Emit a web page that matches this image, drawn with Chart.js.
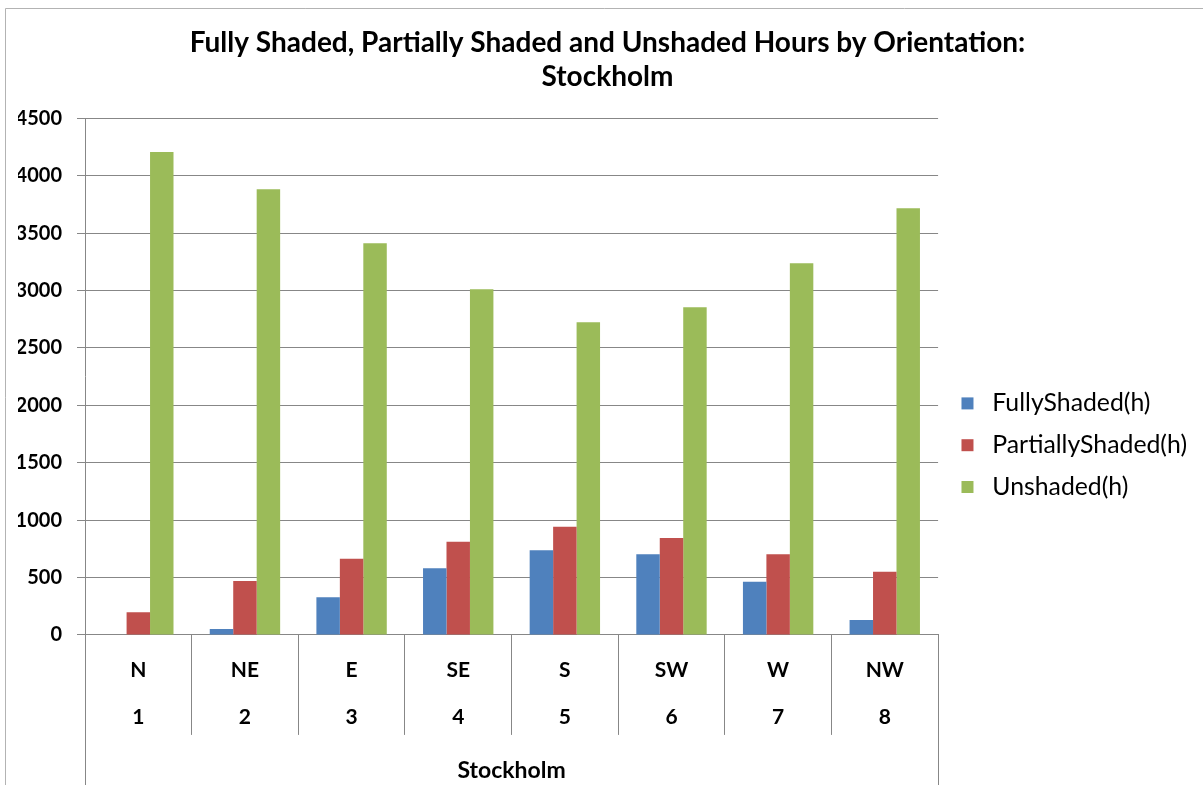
<!DOCTYPE html>
<html>
<head>
<meta charset="utf-8">
<script src="https://cdn.jsdelivr.net/npm/chart.js@4.4.1/dist/chart.umd.min.js"></script>
<style>
  html, body { margin: 0; padding: 0; background: #fff; }
  #wrap { width: 1203px; height: 785px; position: relative; }
</style>
</head>
<body>
<div id="wrap"><canvas id="c" width="1203" height="785"></canvas></div>
<script>
const orientations = ['N', 'NE', 'E', 'SE', 'S', 'SW', 'W', 'NW'];
const orientationIndex = ['1', '2', '3', '4', '5', '6', '7', '8'];
const groupLabel = 'Stockholm';
const fullyShaded = [0, 52, 328, 580, 737, 702, 464, 130];
const partiallyShaded = [198, 470, 664, 812, 943, 844, 702, 551];
const unshaded = [4206, 3882, 3412, 3011, 2724, 2855, 3238, 3717];
const yTicks = [0, 500, 1000, 1500, 2000, 2500, 3000, 3500, 4000, 4500];

const FONT = 'Lato, "Open Sans", sans-serif';
const GRID = '#878787';

const frame = {
  id: 'frame',
  beforeDraw(chart) {
    const ctx = chart.ctx;
    ctx.save();
    ctx.fillStyle = '#fff';
    ctx.fillRect(0, 0, chart.width, chart.height);
    ctx.strokeStyle = '#b3b3b3';
    ctx.lineWidth = 1;
    ctx.beginPath();
    ctx.moveTo(5.5, chart.height + 5);
    ctx.lineTo(5.5, 8.5);
    ctx.lineTo(chart.width + 5, 8.5);
    ctx.stroke();
    ctx.restore();
  },
  afterDraw(chart) {
    const ctx = chart.ctx;
    const a = chart.chartArea;
    const x = chart.scales.x;
    ctx.save();
    ctx.strokeStyle = GRID;
    ctx.lineWidth = 1;
    ctx.beginPath();
    [x.left, x.right].forEach(px => {
      const p = Math.round(px) + 0.5;
      ctx.moveTo(p, a.bottom);
      ctx.lineTo(p, chart.height);
    });
    ctx.stroke();
    ctx.restore();
  }
};

new Chart(document.getElementById('c'), {
  type: 'bar',
  data: {
    labels: orientations.map((o, i) => [o, orientationIndex[i]]),
    datasets: [
      { label: 'FullyShaded(h)', data: fullyShaded, backgroundColor: '#4F81BD', pointStyle: 'rect' },
      { label: 'PartiallyShaded(h)', data: partiallyShaded, backgroundColor: '#C0504D', pointStyle: 'rect' },
      { label: 'Unshaded(h)', data: unshaded, backgroundColor: '#9BBB59', pointStyle: 'rect' }
    ]
  },
  options: {
    responsive: false,
    animation: false,
    devicePixelRatio: 1,
    layout: { padding: { left: 18, right: 6, top: 10, bottom: 3 } },
    datasets: { bar: { categoryPercentage: 0.66, barPercentage: 1.0 } },
    plugins: {
      title: {
        display: true,
        text: ['Fully Shaded, Partially Shaded and Unshaded Hours by Orientation:', 'Stockholm'],
        color: '#000',
        font: { family: FONT, size: 28, weight: 'bold', lineHeight: 1.22 },
        padding: { top: 16, bottom: 24 }
      },
      legend: {
        position: 'right',
        title: { display: true, text: ' ', font: { size: 12, lineHeight: 1.2 }, padding: { top: 84, bottom: 0 } },
        labels: {
          color: '#000',
          font: { family: FONT, size: 24.8 },
          usePointStyle: true,
          boxWidth: 24.8,
          boxHeight: 12,
          padding: 17
        }
      },
      tooltip: { enabled: false }
    },
    scales: {
      x: {
        grid: { display: true, drawOnChartArea: false, offset: true, tickLength: 100, color: GRID },
        border: { display: true, color: GRID },
        ticks: {
          color: '#000',
          font: { family: FONT, size: 21, weight: 'bold', lineHeight: 2.24 },
          padding: -88.5,
          maxRotation: 0,
          autoSkip: false
        },
        title: {
          display: true,
          text: groupLabel,
          color: '#000',
          font: { family: FONT, size: 23, weight: 'bold', lineHeight: 1 },
          padding: { top: 107, bottom: 0 }
        }
      },
      y: {
        min: 0,
        max: 4500,
        afterBuildTicks(scale) { scale.ticks = yTicks.map(v => ({ value: v })); },
        afterFit(scale) { scale.width = 67; },
        grid: { color: GRID, tickLength: 8 },
        border: { display: true, color: GRID },
        ticks: {
          color: '#000',
          font: { family: FONT, size: 20, weight: 'bold' },
          padding: 15,
          callback: (v) => String(v)
        }
      }
    }
  },
  plugins: [frame]
});
</script>
</body>
</html>
